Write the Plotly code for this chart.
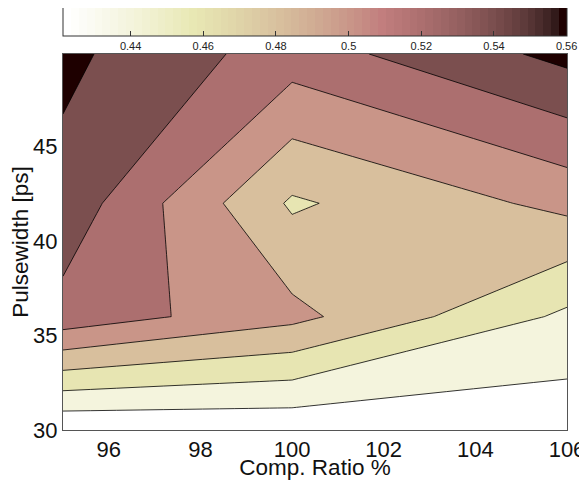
import math
import plotly.graph_objects as go

# ---------------- data ----------------
comp_ratio = [95, 100, 106]            # x grid, Comp. Ratio %
pulsewidth = [30, 36, 42, 49.9]        # y grid, Pulsewidth [ps]
z_pw30 = [0.4214, 0.4240, 0.4270]
z_pw36 = [0.5328, 0.5057, 0.4559]
z_pw42 = [0.5530, 0.4772, 0.5056]
z_pw50 = [0.5647, 0.5300, 0.5657]

x_ticks = [96, 98, 100, 102, 104, 106]
y_ticks = [30, 35, 40, 45]
cb_ticks = [0.44, 0.46, 0.48, 0.50, 0.52, 0.54, 0.56]
cb_ticktext = ["0.44", "0.46", "0.48", "0.5", "0.52", "0.54", "0.56"]

z = [z_pw30, z_pw36, z_pw42, z_pw50]

# ---------------- style ----------------
c_min, c_max = 0.4214, 0.5601
lev_start, lev_end, lev_step = 0.44, 0.56, 0.02
FONT = "Liberation Sans, Arial, sans-serif"


def matlab_pink(m=64):
    n = int(3 / 8 * m)
    rows = []
    for i in range(m):
        r = (i + 1) / n if i < n else 1.0
        g = 0.0 if i < n else ((i - n + 1) / n if i < 2 * n else 1.0)
        b = 0.0 if i < 2 * n else (i - 2 * n + 1) / (m - 2 * n)
        gr = i / (m - 1)
        rows.append(tuple(math.sqrt((2 * gr + c) / 3) for c in (r, g, b)))
    return rows


cmap = matlab_pink(64)[::-1]  # flipud(pink): white -> black


def rgb(c):
    return "rgb(%d,%d,%d)" % tuple(round(255 * v) for v in c)


def color_at(v):
    idx = int((v - c_min) / (c_max - c_min) * len(cmap))
    idx = max(0, min(len(cmap) - 1, idx))
    return rgb(cmap[idx])


# band colours: colour of each band's lower level (MATLAB contourf style)
n_lev = int(round((lev_end - lev_start) / lev_step)) + 1
lower_levels = [c_min] + [lev_start + k * lev_step for k in range(n_lev)]
nb = len(lower_levels)
band_scale = []
for k, L in enumerate(lower_levels):
    col = color_at(L + 1e-9)
    band_scale.append([k / nb, col])
    band_scale.append([(k + 1) / nb, col])

# stepped colourbar (64 colours)
cb_scale = []
for i, c in enumerate(cmap):
    cb_scale.append([i / len(cmap), rgb(c)])
    cb_scale.append([(i + 1) / len(cmap), rgb(c)])

fig = go.Figure()
fig.add_trace(go.Contour(
    x=comp_ratio, y=pulsewidth, z=z,
    autocontour=False,
    contours=dict(start=lev_start, end=lev_end, size=lev_step, coloring="fill"),
    colorscale=band_scale,
    line=dict(color="black", width=0.8, smoothing=0),
    showscale=False,
    hoverinfo="skip",
))

# the page body has an 8px margin, so the figure is sized 8px smaller
OFF = 8
W, H = 587 - OFF, 480 - OFF
L, R, T, B = 63 - OFF, 20, 54 - OFF, 50
plot_h = H - T - B
cb_top_page = 6
fig.add_trace(go.Scatter(
    x=[comp_ratio[0]], y=[pulsewidth[0]], mode="markers",
    marker=dict(
        size=1, opacity=0, color=[c_min], cmin=c_min, cmax=c_max,
        colorscale=cb_scale, showscale=True,
        colorbar=dict(
            orientation="h", x=0.5, xanchor="center",
            y=(plot_h + T - (cb_top_page - OFF)) / plot_h,
            yanchor="top",
            xpad=0, ypad=0,
            len=W - L - R, lenmode="pixels",
            thickness=30, thicknessmode="pixels",
            outlinecolor="#333333", outlinewidth=1,
            ticks="inside", ticklen=5, tickcolor="#333333",
            tickvals=cb_ticks, ticktext=cb_ticktext,
            tickfont=dict(size=11, color="#222222", family=FONT),
        ),
    ),
    hoverinfo="skip", showlegend=False,
))

fig.update_layout(
    width=W, height=H,
    margin=dict(l=L, r=R, t=T, b=B, pad=0, autoexpand=False),
    paper_bgcolor="white", plot_bgcolor="white",
    font=dict(family=FONT, color="#111111"),
    showlegend=False,
    xaxis=dict(
        range=[95, 106], tickvals=x_ticks, ticks="", ticklen=0, showgrid=False, zeroline=False,
        showline=True, mirror=True, linecolor="#555555", linewidth=1,
        tickfont=dict(size=22), title=dict(text="Comp. Ratio %", font=dict(size=22.5), standoff=0),
    ),
    yaxis=dict(
        range=[30, 49.9], tickvals=y_ticks, ticks="", ticklen=0, showgrid=False, zeroline=False,
        showline=True, mirror=True, linecolor="#555555", linewidth=1,
        tickfont=dict(size=22), title=dict(text="Pulsewidth [ps]", font=dict(size=22.5), standoff=12),
    ),
)

fig.write_html("out.html")
